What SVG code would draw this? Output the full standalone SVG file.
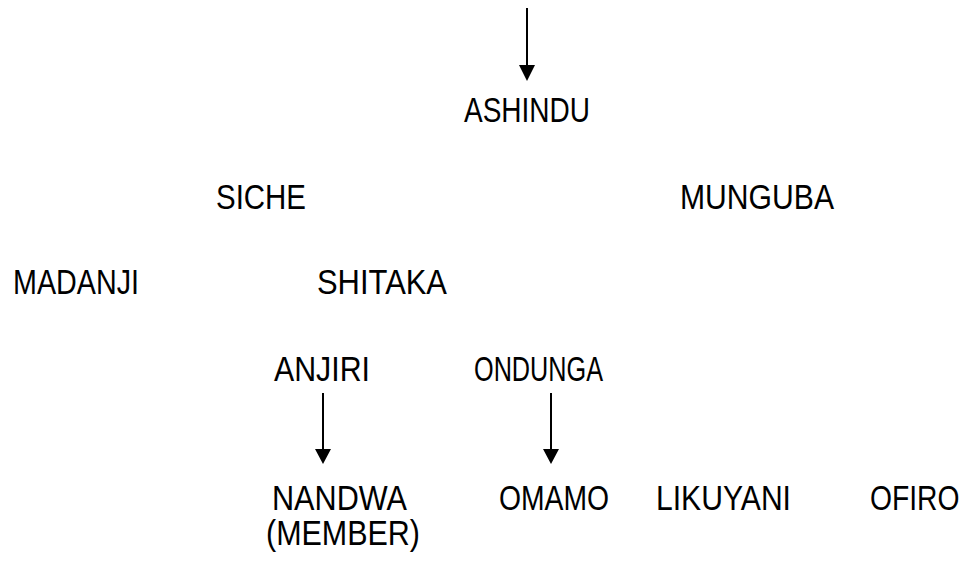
<svg xmlns="http://www.w3.org/2000/svg" width="971" height="563" viewBox="0 0 971 563">
<style>
text{font-family:"Liberation Sans",Arial,sans-serif;font-size:34.5px;fill:#000}
.c{stroke:#000;stroke-width:2;fill:none}
</style>
<rect width="971" height="563" fill="#fff"/>
<g id="connectors">
<path class="c" d="M527,8 V65"/>
<path d="M519,65 L535,65 L527,81 Z" fill="#000"/>
<path class="c" d="M323,393 V449"/>
<path d="M315,449 L331,449 L323,464 Z" fill="#000"/>
<path class="c" d="M551,393 V449"/>
<path d="M543,449 L559,449 L551,464 Z" fill="#000"/>
</g>
<g id="ashindu"><text x="464" y="122" textLength="126" lengthAdjust="spacingAndGlyphs">ASHINDU</text></g>
<g id="siche"><text x="216" y="209" textLength="90" lengthAdjust="spacingAndGlyphs">SICHE</text></g>
<g id="munguba"><text x="680" y="209" textLength="154" lengthAdjust="spacingAndGlyphs">MUNGUBA</text></g>
<g id="madanji"><text x="13" y="294" textLength="126" lengthAdjust="spacingAndGlyphs">MADANJI</text></g>
<g id="shitaka"><text x="317" y="294" textLength="130" lengthAdjust="spacingAndGlyphs">SHITAKA</text></g>
<g id="anjiri"><text x="274" y="381" textLength="96" lengthAdjust="spacingAndGlyphs">ANJIRI</text></g>
<g id="ondunga"><text x="474" y="381" textLength="129" lengthAdjust="spacingAndGlyphs">ONDUNGA</text></g>
<g id="nandwa"><text x="272" y="510" textLength="135" lengthAdjust="spacingAndGlyphs">NANDWA</text><text x="266" y="545" textLength="154" lengthAdjust="spacingAndGlyphs">(MEMBER)</text></g>
<g id="omamo"><text x="499" y="510" textLength="110" lengthAdjust="spacingAndGlyphs">OMAMO</text></g>
<g id="likuyani"><text x="656" y="510" textLength="135" lengthAdjust="spacingAndGlyphs">LIKUYANI</text></g>
<g id="ofiro"><text transform="translate(870,510) scale(0.82,1)" x="0" y="0">OFIRO</text></g>
</svg>
